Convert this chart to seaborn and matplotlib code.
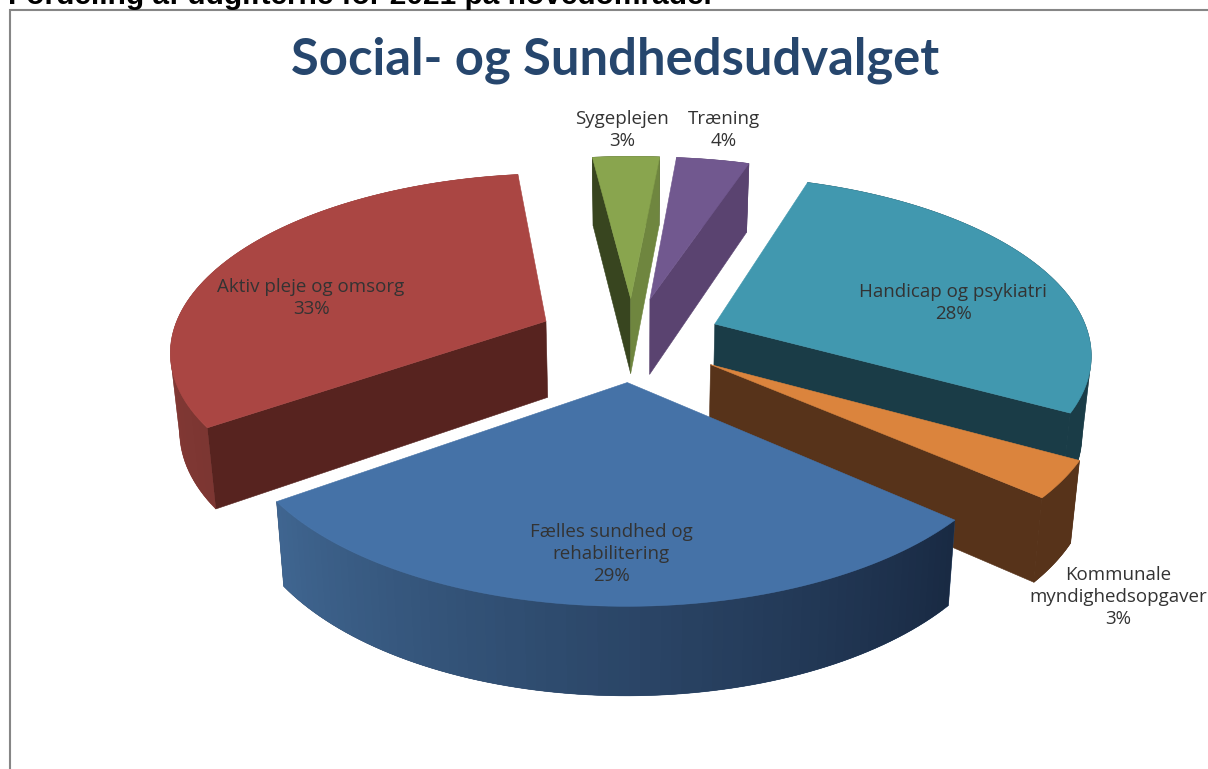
import numpy as np
import pandas as pd
import seaborn as sns
import matplotlib.pyplot as plt
from matplotlib.patches import Polygon, Rectangle

names = ['Sygeplejen', 'Træning', 'Handicap og psykiatri', 'Kommunale\nmyndighedsopgaver',
         'Fælles sundhed og\nrehabilitering', 'Aktiv pleje og omsorg']
shares = [3.4, 3.7, 27.9, 3.3, 28.9, 32.8]
top_colors = ['#89a54e', '#71588f', '#4198af', '#db843d', '#4572a7', '#aa4643']
cut_left = ['#38451f', '#5a4370', '#1a3c47', '#57331a', '#1a2c46', '#57231f']
cut_right = ['#6f863f', '#5a4370', '#1a3c47', '#57331a', '#1a2c46', '#57231f']
wall_from = ['#38451f', '#5a4370', '#1a3c47', '#57331a', '#3f6590', '#7c3632']
wall_to = ['#38451f', '#5a4370', '#1a3c47', '#57331a', '#192a43', '#9c423e']
explode_by = [0.24, 0.24, 0.24, 0.25, 0.24, 0.255]
label_xy = [(622, 130), (724, 130), (953, 303), (1118, 597), (611, 554), (311, 298)]

title = 'Social- og Sundhedsudvalget'
header = 'Fordeling af udgifterne for 2021 på hovedområder'

sns.set_theme(style='white')
plt.rcParams['font.family'] = ['Open Sans', 'DejaVu Sans']

cx, cy = 632, 339
rad, depth, thick = 375, 175, 77
persp = 0.152
start = -7


def project(u, v, low=False):
    s = 1 / (1 - persp * v)
    x = rad * u * s
    y = depth * v * s
    if low:
        return cx + x * 0.98, cy + y * 0.98 + thick * s
    return cx + x, cy + y


df = pd.DataFrame({'name': names, 'share': shares})
df['sweep'] = df['share'] / df['share'].sum() * 360
df['a0'] = start + df['sweep'].cumsum().shift(fill_value=0)
df['a1'] = df['a0'] + df['sweep']

fig, ax = plt.subplots(figsize=(12.08, 7.69), dpi=100)
fig.subplots_adjust(0, 0, 1, 1)
ax.set_xlim(0, 1208)
ax.set_ylim(769, 0)
ax.axis('off')

ax.add_patch(Rectangle((10, 10), 1300, 900, fc='white', ec='#868686', lw=1.5))
ax.text(8, 4.5, header, fontsize=21.5, fontweight='bold', family='Liberation Sans', color='black')
ax.text(615, 60, title, fontsize=36.5, fontweight='bold', family='Lato', color='#26466d',
        ha='center', va='center')


def quad(p, q, color, z, lw=0.4):
    pts = [project(*p), project(*q), project(*q, low=True), project(*p, low=True)]
    # keep only the sides that face the viewer
    area = 0
    for i in range(4):
        x0, y0 = pts[i]
        x1, y1 = pts[(i + 1) % 4]
        area += x0 * y1 - x1 * y0
    if area < 0:
        ax.add_patch(Polygon(pts, fc=color, ec=color, lw=lw, zorder=z))


# back to front
for i in [0, 1, 2, 5, 3, 4]:
    row = df.iloc[i]
    mid = np.radians((row['a0'] + row['a1']) / 2)
    ou, ov = explode_by[i] * np.sin(mid), -explode_by[i] * np.cos(mid)
    ang = np.radians(np.linspace(row['a0'], row['a1'], 80))
    arc = [(ou + np.sin(a), ov - np.cos(a)) for a in ang]
    apex = (ou, ov)
    z = 2 + [0, 1, 2, 4, 5, 3][i]
    ramp = sns.blend_palette([wall_from[i], wall_to[i]], len(arc) - 1)
    if i == 4:
        ramp = ramp[::-1]
    # solid wall underneath, so the strips leave no light gaps
    under = [project(*p) for p in arc] + [project(*p, low=True) for p in arc[::-1]]
    ax.add_patch(Polygon(under, fc=ramp[40], ec=ramp[40], lw=0.4, zorder=z))
    quad(apex, arc[0], cut_left[i], z)
    quad(arc[-1], apex, cut_right[i] if i == 0 else cut_left[i], z)
    # each strip runs under the next one so no seams show
    for k in range(len(arc) - 1):
        quad(arc[k], arc[min(k + 2, len(arc) - 1)], ramp[k], z, lw=0)
    outline = [project(*apex)] + [project(*p) for p in arc]
    ax.add_patch(Polygon(outline, fc=top_colors[i], ec=top_colors[i], lw=0.4, zorder=z + 0.5))

for i, row in df.iterrows():
    ax.text(label_xy[i][0], label_xy[i][1], f"{row['name']}\n{round(row['share'])}%", fontsize=13.5,
            color='#333333', ha='center', va='center', linespacing=1.28, zorder=20)

plt.savefig('out.png', dpi=100)
